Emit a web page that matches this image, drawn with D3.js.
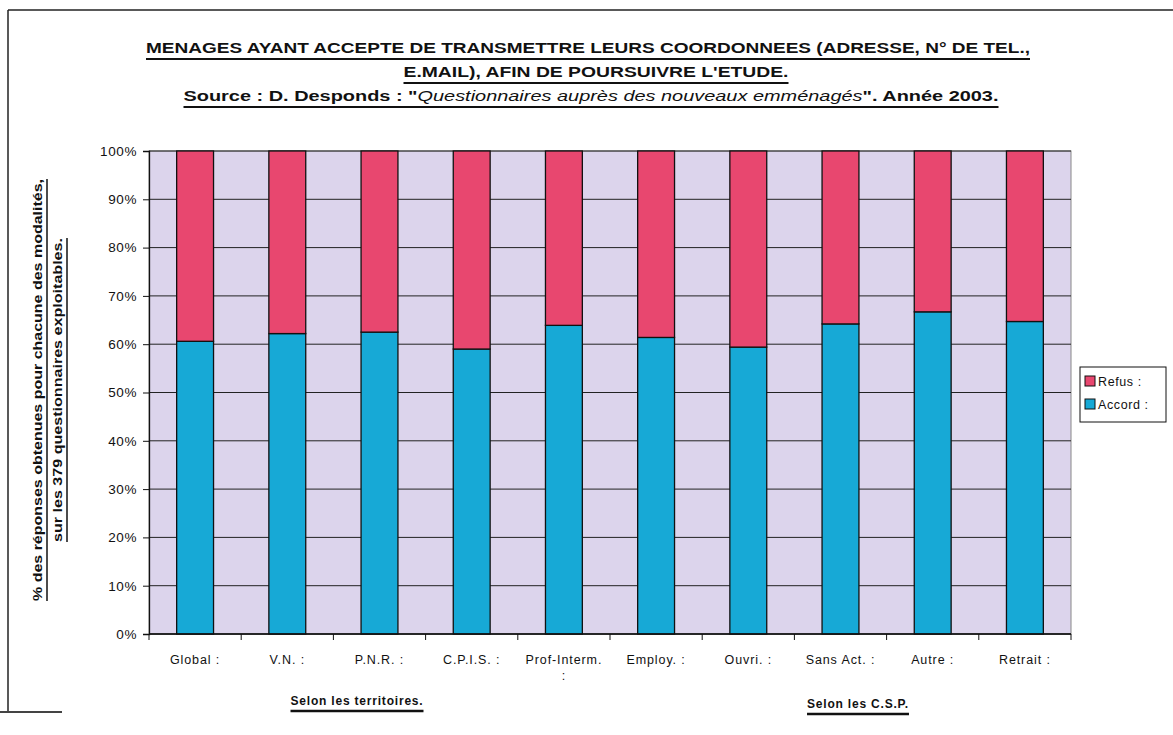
<!DOCTYPE html>
<html>
<head>
<meta charset="utf-8">
<script src="https://cdn.jsdelivr.net/npm/d3@7"></script>
<style>
  html, body { margin: 0; padding: 0; background: #ffffff; }
  svg { display: block; }
  text { font-family: "Liberation Sans", Arial, sans-serif; fill: #111; }
</style>
</head>
<body>
<svg id="chart" width="1173" height="735"></svg>
<script>
// ---- data ----
const categories = ["Global :", "V.N. :", "P.N.R. :", "C.P.I.S. :", "Prof-Interm. :", "Employ. :", "Ouvri. :", "Sans Act. :", "Autre :", "Retrait :"];
const accord = [60.6, 62.2, 62.5, 59.0, 63.9, 61.4, 59.4, 64.2, 66.7, 64.7];
const refus = accord.map(v => 100 - v);
const seriesNames = ["Accord :", "Refus :"];
const yTicks = [0, 10, 20, 30, 40, 50, 60, 70, 80, 90, 100];
const titleLines = ["MENAGES AYANT ACCEPTE DE TRANSMETTRE LEURS COORDONNEES (ADRESSE, N° DE TEL.,", "E.MAIL), AFIN DE POURSUIVRE L'ETUDE."];
const sourceParts = ["Source : D. Desponds : \"", "Questionnaires auprès des nouveaux emménagés", "\". Année 2003."];
const yLabelLines = ["% des réponses obtenues pour chacune des modalités,", "sur les 379 questionnaires exploitables."];
const groupLabels = ["Selon les territoires.", "Selon les C.S.P."];

const colors = { "Accord :": "#17a9d6", "Refus :": "#e8476f" };

const svg = d3.select("#chart");
const M = { left: 149, right: 1071, top: 151, bottom: 634 };

// outer frame
svg.append("line").attr("x1", 8).attr("x2", 8).attr("y1", 10).attr("y2", 712).attr("stroke", "#222").attr("stroke-width", 1.5);
svg.append("line").attr("x1", 8).attr("x2", 1173).attr("y1", 10).attr("y2", 10).attr("stroke", "#222").attr("stroke-width", 1.5);
svg.append("line").attr("x1", 0).attr("x2", 62).attr("y1", 712).attr("y2", 712).attr("stroke", "#444").attr("stroke-width", 2);

// scales
const x = d3.scaleBand().domain(categories).range([M.left, M.right]).paddingInner(0.6).paddingOuter(0.3);
const y = d3.scaleLinear().domain([0, 100]).range([M.bottom, M.top]);

// plot background
svg.append("rect").attr("x", M.left).attr("y", M.top).attr("width", M.right - M.left).attr("height", M.bottom - M.top)
  .attr("fill", "#dcd4ec").attr("stroke", "#888").attr("stroke-width", 1);

// gridlines
svg.append("g").selectAll("line").data(yTicks).join("line")
  .attr("x1", M.left).attr("x2", M.right)
  .attr("y1", d => y(d)).attr("y2", d => y(d))
  .attr("stroke", "#222").attr("stroke-width", 1);

// stacked bars
const rows = categories.map((c, i) => ({ cat: c, "Accord :": accord[i], "Refus :": refus[i] }));
const stack = d3.stack().keys(seriesNames)(rows);
svg.append("g").selectAll("g").data(stack).join("g")
  .attr("fill", s => colors[s.key])
  .selectAll("rect").data(s => s).join("rect")
  .attr("x", d => x(d.data.cat))
  .attr("width", x.bandwidth())
  .attr("y", d => y(d[1]))
  .attr("height", d => y(d[0]) - y(d[1]))
  .attr("stroke", "#111").attr("stroke-width", 1.3);

// y axis
const yAxis = d3.axisLeft(y).tickValues(yTicks).tickFormat(d => d + "%").tickSize(6).tickPadding(6);
const gy = svg.append("g").attr("transform", `translate(${M.left},0)`).call(yAxis);
gy.select(".domain").attr("stroke", "#111").attr("stroke-width", 1.3);
gy.selectAll(".tick line").attr("stroke", "#111");
gy.selectAll(".tick text").attr("font-size", 13.5).attr("fill", "#111").style("font-family", "Liberation Sans, Arial, sans-serif").attr("letter-spacing", 0.6);

// x axis (ticks between categories)
const step = x.step();
const boundaries = d3.range(categories.length + 1).map(i => M.left + i * step);
const gx = svg.append("g");
gx.append("line").attr("x1", M.left).attr("x2", M.right).attr("y1", M.bottom).attr("y2", M.bottom).attr("stroke", "#111").attr("stroke-width", 1.3);
gx.selectAll("line.t").data(boundaries).join("line").attr("class", "t")
  .attr("x1", d => d).attr("x2", d => d).attr("y1", M.bottom).attr("y2", M.bottom + 6).attr("stroke", "#111");
gx.selectAll("text").data(categories).join("text")
  .attr("x", d => x(d) + x.bandwidth() / 2)
  .attr("y", 664)
  .attr("text-anchor", "middle")
  .attr("font-size", 12.5)
  .attr("letter-spacing", 0.9)
  .each(function(d) {
    const t = d3.select(this);
    if (d === "Prof-Interm. :") {
      t.append("tspan").attr("x", x(d) + x.bandwidth() / 2).text("Prof-Interm.");
      t.append("tspan").attr("x", x(d) + x.bandwidth() / 2).attr("dy", 16).text(":");
    } else {
      t.text(d);
    }
  });

// helper underline
function underline(sel, offset, w) {
  const b = sel.node().getBBox();
  svg.append("line").attr("x1", b.x).attr("x2", b.x + b.width)
    .attr("y1", b.y + b.height + offset).attr("y2", b.y + b.height + offset)
    .attr("stroke", "#111").attr("stroke-width", w);
}

// titles
const t1 = svg.append("text").attr("x", 588).attr("y", 53).attr("text-anchor", "middle")
  .attr("font-size", 14.5).attr("font-weight", "bold").attr("textLength", 884).attr("lengthAdjust", "spacingAndGlyphs").text(titleLines[0]);
underline(t1, 3, 2);
const t2 = svg.append("text").attr("x", 596).attr("y", 77).attr("text-anchor", "middle")
  .attr("font-size", 14.5).attr("font-weight", "bold").attr("textLength", 385).attr("lengthAdjust", "spacingAndGlyphs").text(titleLines[1]);
underline(t2, 3, 2);
const t3 = svg.append("text").attr("x", 591).attr("y", 101).attr("text-anchor", "middle")
  .attr("font-size", 14.5).attr("font-weight", "bold").attr("textLength", 815).attr("lengthAdjust", "spacingAndGlyphs");
t3.append("tspan").text(sourceParts[0]);
t3.append("tspan").attr("font-style", "italic").attr("font-weight", "normal").text(sourceParts[1]);
t3.append("tspan").text(sourceParts[2]);
underline(t3, 3, 2);

// y label (rotated)
svg.append("text").attr("transform", "translate(42,390) rotate(-90)").attr("text-anchor", "middle")
  .attr("font-size", 12.5).attr("font-weight", "bold").attr("textLength", 422).attr("lengthAdjust", "spacingAndGlyphs").text(yLabelLines[0]);
svg.append("text").attr("transform", "translate(62,390) rotate(-90)").attr("text-anchor", "middle")
  .attr("font-size", 12.5).attr("font-weight", "bold").attr("textLength", 304).attr("lengthAdjust", "spacingAndGlyphs").text(yLabelLines[1]);
[[47, 422], [67, 304]].forEach(([lx, len]) => {
  svg.append("line").attr("x1", lx).attr("x2", lx).attr("y1", 390 - len / 2).attr("y2", 390 + len / 2)
    .attr("stroke", "#111").attr("stroke-width", 1.5);
});

// group labels
const g1 = svg.append("text").attr("x", 357).attr("y", 705).attr("text-anchor", "middle")
  .attr("font-size", 12).attr("font-weight", "bold").attr("letter-spacing", 0.8).text(groupLabels[0]);
underline(g1, 3, 2.5);
const g2 = svg.append("text").attr("x", 858).attr("y", 708).attr("text-anchor", "middle")
  .attr("font-size", 12).attr("font-weight", "bold").attr("letter-spacing", 0.8).text(groupLabels[1]);
underline(g2, 3, 2.5);

// legend
const lg = svg.append("g").attr("transform", "translate(1080,367)");
lg.append("rect").attr("width", 86).attr("height", 55).attr("fill", "#fff").attr("stroke", "#111").attr("stroke-width", 1);
const legendOrder = ["Refus :", "Accord :"];
legendOrder.forEach((k, i) => {
  const row = lg.append("g").attr("transform", `translate(5,${14 + i * 23})`);
  row.append("rect").attr("x", 0).attr("y", -5).attr("width", 10).attr("height", 10)
    .attr("fill", colors[k]).attr("stroke", "#111").attr("stroke-width", 1);
  row.append("text").attr("x", 13).attr("y", 4.5).attr("font-size", 12.5).attr("letter-spacing", 0.6).text(k);
});
</script>
</body>
</html>
